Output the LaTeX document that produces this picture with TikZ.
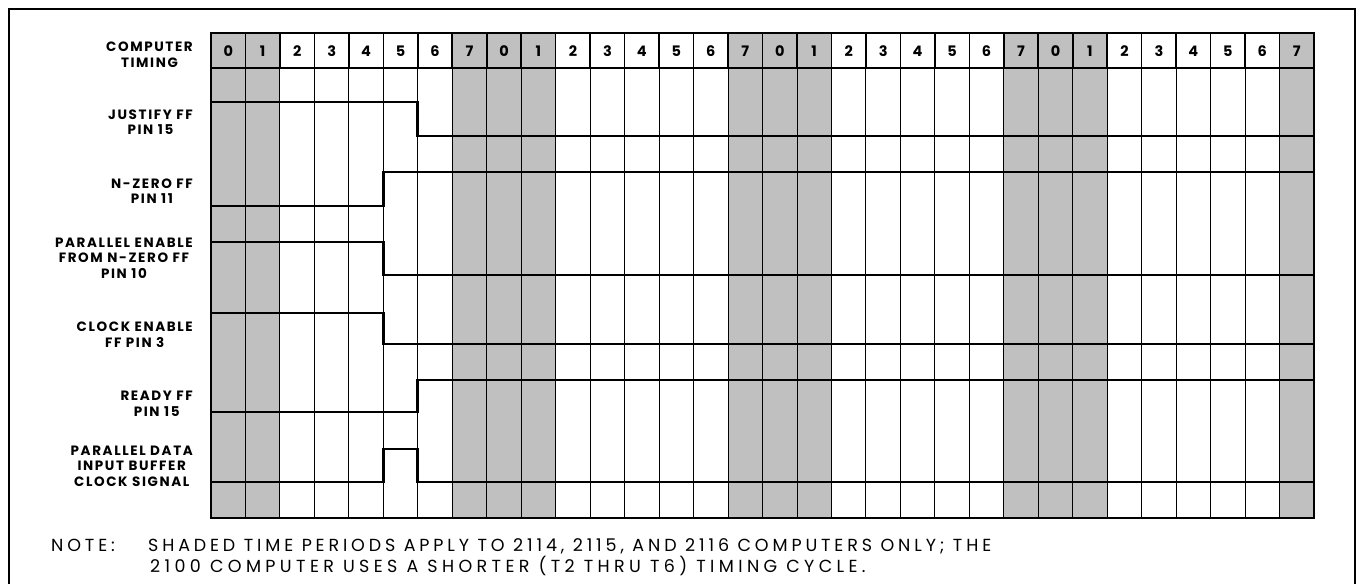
\documentclass[tikz,border=0pt]{standalone}
\usepackage{fontspec}
\setmainfont{Poppins}
\newfontfamily\lblfont{Poppins}[LetterSpace=12]
\newfontfamily\notefont{Poppins}[LetterSpace=22]
\newfontfamily\notefontb{Poppins}[LetterSpace=25]
\definecolor{shadegray}{RGB}{192,192,192}
\begin{document}
\begin{tikzpicture}[x=1pt,y=-1pt,
  lbl/.style={anchor=east,align=center,inner sep=0pt,font=\lblfont\bfseries\fontsize{13.5}{15.5}\selectfont},
  dig/.style={inner sep=0pt,font=\bfseries\fontsize{14.5}{14.5}\selectfont},
  note/.style={anchor=base west,inner sep=0pt,font=\notefont\fontsize{17.5}{17.5}\selectfont},
  noteb/.style={anchor=base west,inner sep=0pt,font=\notefontb\fontsize{17.5}{17.5}\selectfont},
  sig/.style={line width=2.7pt,line join=miter},
  gridthin/.style={line width=0.9pt},
  gridhead/.style={line width=1.6pt},
  frame/.style={line width=1.8pt}]
\useasboundingbox (0,0) rectangle (1360,584);
\fill[white] (0,0) rectangle (1360,584);
\def\gl{211}\def\gw{34.469}
% outer frame (open at the bottom)
\draw[frame] (9,584) -- (9,9) -- (1355,9) -- (1355,584);
% shaded time periods
\foreach \c in {0,1,7,8,9,15,16,17,23,24,25,31}
  \fill[shadegray] ({\gl+\c*\gw},33) rectangle ({\gl+(\c+1)*\gw},518);
% grid lines
\foreach \c in {1,...,31} {
  \draw[gridthin] ({\gl+\c*\gw},68) -- ({\gl+\c*\gw},518);
  \draw[gridhead] ({\gl+\c*\gw},33) -- ({\gl+\c*\gw},68);
}
\draw[gridhead] (211,68) -- (1314,68);
\draw[frame] (211,33) rectangle (1314,518);
% timing numbers
\foreach \c in {0,...,31} {
  \pgfmathtruncatemacro\d{mod(\c,8)}
  \node[dig] (t\c) at ({\gl+(\c+0.5)*\gw},51) {\d};
}
% labels
\node[lbl] (lcomp) at (193,54.5) {COMPUTER\\TIMING};
\node[lbl] (ljust) at (193,122) {JUSTIFY FF\\PIN 15};
\node[lbl] (lnz) at (193,191) {N-ZERO FF\\PIN 11};
\node[lbl] (lpe) at (193,258) {PARALLEL ENABLE\\FROM N-ZERO FF\\PIN 10};
\node[lbl] (lce) at (193,334.5) {CLOCK ENABLE\\FF PIN 3};
\node[lbl] (lrd) at (193,404) {READY FF\\PIN 15};
\node[lbl] (lpd) at (193,466) {PARALLEL DATA\\INPUT BUFFER\\CLOCK SIGNAL};
% signals
\def\cf{\gl+5*\gw}\def\cs{\gl+6*\gw}
\draw[sig] (211,102) -- ({\cs},102) -- ({\cs},136) -- (1314,136);
\draw[sig] (211,206) -- ({\cf},206) -- ({\cf},172) -- (1314,172);
\draw[sig] (211,242) -- ({\cf},242) -- ({\cf},275) -- (1314,275);
\draw[sig] (211,313) -- ({\cf},313) -- ({\cf},344) -- (1314,344);
\draw[sig] (211,412) -- ({\cs},412) -- ({\cs},380) -- (1314,380);
\draw[sig] (211,482) -- ({\cf},482) -- ({\cf},449) -- ({\cs},449) -- ({\cs},482) -- (1314,482);
% note
\node[note] (nlab) at (51,551) {NOTE:};
\node[note] (n1) at (148,551) {SHADED TIME PERIODS APPLY TO 2114, 2115, AND 2116 COMPUTERS ONLY; THE};
\node[noteb] (n2) at (150,572) {2100 COMPUTER USES A SHORTER (T2 THRU T6) TIMING CYCLE.};
\end{tikzpicture}
\end{document}
